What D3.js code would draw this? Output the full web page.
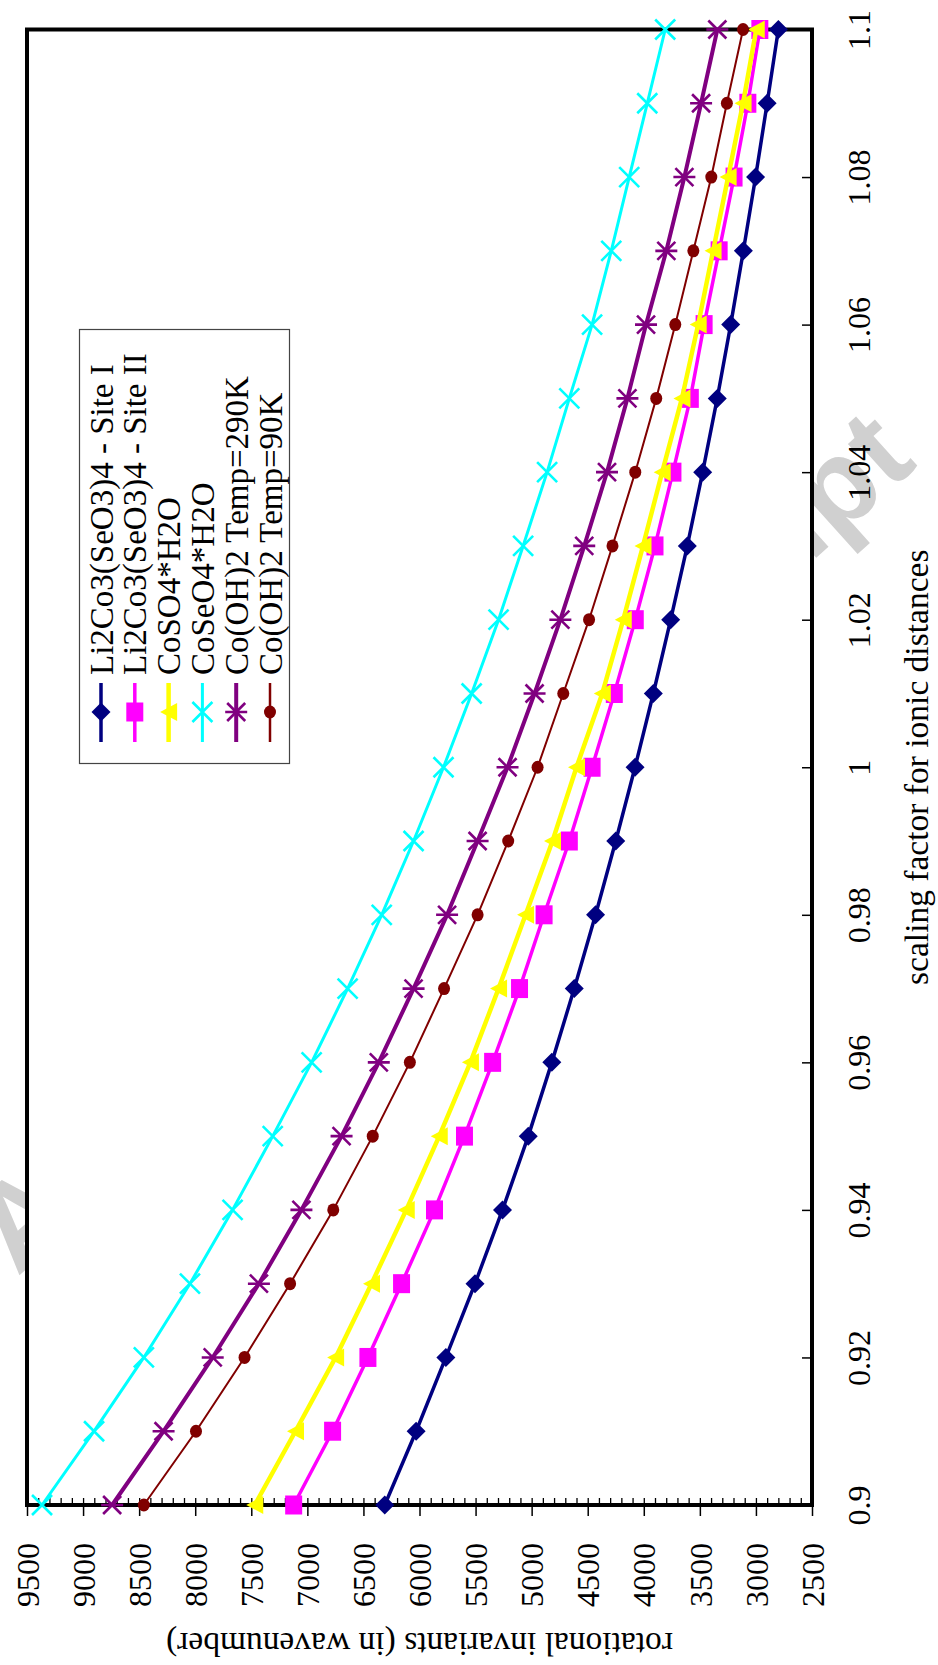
<!DOCTYPE html>
<html>
<head>
<meta charset="utf-8">
<script src="https://cdn.jsdelivr.net/npm/d3@7"></script>
<style>
  body { margin: 0; background: #fff; }
  svg { display: block; }
</style>
</head>
<body>
<div id="chart"></div>
<script>
// scaling factor (x of the original chart)
const factors = [0.9, 0.91, 0.92, 0.93, 0.94, 0.95, 0.96, 0.97, 0.98, 0.99, 1.0,
                 1.01, 1.02, 1.03, 1.04, 1.05, 1.06, 1.07, 1.08, 1.09, 1.1];
const factorTicks = [0.9, 0.92, 0.94, 0.96, 0.98, 1, 1.02, 1.04, 1.06, 1.08, 1.1];
const valueTicks = [2500, 3000, 3500, 4000, 4500, 5000, 5500, 6000, 6500, 7000, 7500, 8000, 8500, 9000, 9500];

// rotational invariants (in wavenumber)
const siteI   = [6310, 6030, 5765, 5505, 5260, 5030, 4820, 4620, 4430, 4250, 4078, 3915, 3760, 3612, 3475, 3345, 3225, 3112, 3003, 2900, 2800];
const siteII  = [7122, 6775, 6460, 6160, 5866, 5599, 5348, 5108, 4889, 4664, 4461, 4263, 4076, 3900, 3740, 3585, 3462, 3328, 3195, 3072, 2965];
const coSO4   = [7469, 7106, 6748, 6428, 6118, 5824, 5546, 5295, 5054, 4814, 4600, 4370, 4183, 4007, 3836, 3660, 3515, 3382, 3248, 3115, 2997];
const coSeO4  = [9366, 8902, 8458, 8047, 7667, 7309, 6962, 6641, 6337, 6053, 5786, 5535, 5295, 5076, 4862, 4664, 4461, 4290, 4130, 3969, 3809];
const coOH290 = [8741, 8282, 7844, 7432, 7053, 6695, 6363, 6053, 5754, 5482, 5215, 4974, 4744, 4531, 4328, 4146, 3980, 3799, 3638, 3489, 3344];
const coOH90  = [8458, 7993, 7560, 7154, 6769, 6417, 6086, 5781, 5482, 5209, 4947, 4718, 4488, 4279, 4076, 3889, 3719, 3558, 3398, 3259, 3115];

const seriesNames = ["Li2Co3(SeO3)4 - Site I", "Li2Co3(SeO3)4 - Site II", "CoSO4*H2O",
                     "CoSeO4*H2O", "Co(OH)2 Temp=290K", "Co(OH)2 Temp=90K"];
const seriesValues = [siteI, siteII, coSO4, coSeO4, coOH290, coOH90];
const seriesColors = ["#000080", "#ff00ff", "#ffff00", "#00ffff", "#800080", "#800000"];
const seriesWidths = [3.5, 3.5, 4.5, 3, 4, 2];
const seriesMarkers = ["diamond", "square", "triangle", "x", "star", "circle"];

const width = 938;
const height = 1665;
const serif = "'Liberation Serif', 'Times New Roman', serif";

// the chart is shown turned a quarter turn counter-clockwise
const plot = { left: 27, right: 812, top: 29.5, bottom: 1505 };

function markerPath(type) {
  switch (type) {
    case "diamond": return "M0,-9.5L9.5,0L0,9.5L-9.5,0Z";
    case "square": return "M-8.5,-9.5H8.5V9.5H-8.5Z";
    case "triangle": return "M-8.5,0L8.5,-9L8.5,9Z";
    case "x": return "M-10,-10L10,10M-10,10L10,-10";
    case "star": return "M-9,-9L9,9M-9,9L9,-9M-11,0H11";
    default: return null;
  }
}

function drawMarker(sel, type, color) {
  if (type === "circle") {
    sel.append("ellipse").attr("rx", 6).attr("ry", 6.5).attr("fill", color);
  } else if (type === "x" || type === "star") {
    sel.append("path").attr("d", markerPath(type))
      .attr("fill", "none").attr("stroke", color).attr("stroke-width", 2.6);
  } else {
    sel.append("path").attr("d", markerPath(type)).attr("fill", color);
  }
}

function drawChart() {
  const svg = d3.select("#chart")
    .append("svg")
    .attr("width", width)
    .attr("height", height)
    .style("background", "#fff");

  const fy = d3.scaleLinear().domain([0.9, 1.1]).range([plot.bottom, plot.top]);
  const vx = d3.scaleLinear().domain([2500, 9500]).range([plot.right, plot.left]);

  // watermark, mostly hidden behind the plot area
  svg.append("text")
    .attr("transform", "translate(440,840) rotate(-42)")
    .attr("text-anchor", "middle")
    .attr("dy", "0.35em")
    .attr("fill", "#d0d0d0")
    .style("font", "bold 120px 'Liberation Sans', Arial, sans-serif")
    .text("Accepted Manuscript");

  svg.append("rect")
    .attr("x", plot.left).attr("y", plot.top)
    .attr("width", plot.right - plot.left).attr("height", plot.bottom - plot.top)
    .attr("fill", "#fff");

  // value axis (bottom)
  const minorTicks = d3.range(2600, 9500, 100);
  svg.append("g")
    .attr("transform", `translate(0,${plot.bottom})`)
    .call(d3.axisBottom(vx).tickValues(minorTicks).tickSize(-7).tickFormat(""))
    .call(g => g.select(".domain").remove())
    .call(g => g.selectAll("line").attr("stroke", "#000").attr("stroke-width", 1.3));

  const yAxis = svg.append("g")
    .attr("transform", `translate(0,${plot.bottom})`)
    .call(d3.axisBottom(vx).tickValues(valueTicks).tickSize(11).tickFormat(d => String(d)));
  yAxis.select(".domain").remove();
  yAxis.selectAll("line").attr("stroke", "#000").attr("stroke-width", 1.5);
  yAxis.selectAll("text")
    .attr("y", 0)
    .attr("dy", "0.35em")
    .attr("text-anchor", "end")
    .attr("transform", "translate(0,38) rotate(-90)")
    .attr("fill", "#000")
    .style("font", `32px ${serif}`);

  // scaling factor axis (right)
  const xAxis = svg.append("g")
    .attr("transform", `translate(${plot.right},0)`)
    .call(d3.axisRight(fy).tickValues(factorTicks).tickSize(-10).tickFormat(d => String(d)));
  xAxis.select(".domain").remove();
  xAxis.selectAll("line").attr("stroke", "#000").attr("stroke-width", 1.5);
  xAxis.selectAll("text")
    .attr("x", 0)
    .attr("dy", "0.35em")
    .attr("text-anchor", "middle")
    .attr("transform", "translate(47,0) rotate(-90)")
    .attr("fill", "#000")
    .style("font", `32px ${serif}`);

  // frame
  svg.append("rect")
    .attr("x", plot.left).attr("y", plot.top)
    .attr("width", plot.right - plot.left).attr("height", plot.bottom - plot.top)
    .attr("fill", "none")
    .attr("stroke", "#000")
    .attr("stroke-width", 4);

  // axis titles
  svg.append("text")
    .attr("transform", `translate(${(plot.left + plot.right) / 2},1633) rotate(180)`)
    .attr("text-anchor", "middle")
    .style("font", `33.5px ${serif}`)
    .text("rotational invariants (in wavenumber)");

  svg.append("text")
    .attr("transform", `translate(916,${(plot.top + plot.bottom) / 2}) rotate(-90)`)
    .attr("text-anchor", "middle")
    .attr("dy", "0.35em")
    .style("font", `33.5px ${serif}`)
    .text("scaling factor for ionic distances");

  // series
  const line = d3.line()
    .x(d => vx(d.v))
    .y(d => fy(d.f));

  seriesValues.forEach((vals, i) => {
    const pts = vals.map((v, j) => ({ f: factors[j], v }));
    svg.append("path")
      .datum(pts)
      .attr("fill", "none")
      .attr("stroke", seriesColors[i])
      .attr("stroke-width", seriesWidths[i])
      .attr("stroke-linejoin", "round")
      .attr("d", line);

    svg.append("g")
      .selectAll("g")
      .data(pts)
      .join("g")
      .attr("transform", d => `translate(${vx(d.v)},${fy(d.f)})`)
      .each(function() { drawMarker(d3.select(this), seriesMarkers[i], seriesColors[i]); });
  });

  // legend
  const legend = svg.append("g");
  legend.append("rect")
    .attr("x", 79.5).attr("y", 329.5)
    .attr("width", 210).attr("height", 434)
    .attr("fill", "#fff")
    .attr("stroke", "#444")
    .attr("stroke-width", 1.2);

  const rows = legend.selectAll("g.row")
    .data(seriesNames)
    .join("g")
    .attr("class", "row")
    .attr("transform", (d, i) => `translate(${101 + i * 33.8},0)`);

  rows.append("line")
    .attr("x1", 0).attr("x2", 0)
    .attr("y1", 683).attr("y2", 742)
    .attr("stroke", (d, i) => seriesColors[i])
    .attr("stroke-width", (d, i) => Math.max(seriesWidths[i], 2.5));

  rows.append("g")
    .attr("transform", "translate(0,712)")
    .each(function(d, i) { drawMarker(d3.select(this), seriesMarkers[i], seriesColors[i]); });

  rows.append("text")
    .attr("transform", "translate(0,675) rotate(-90)")
    .attr("dy", "0.35em")
    .attr("text-anchor", "start")
    .style("font", `33px ${serif}`)
    .text(d => d);
}

drawChart();
</script>
</body>
</html>
